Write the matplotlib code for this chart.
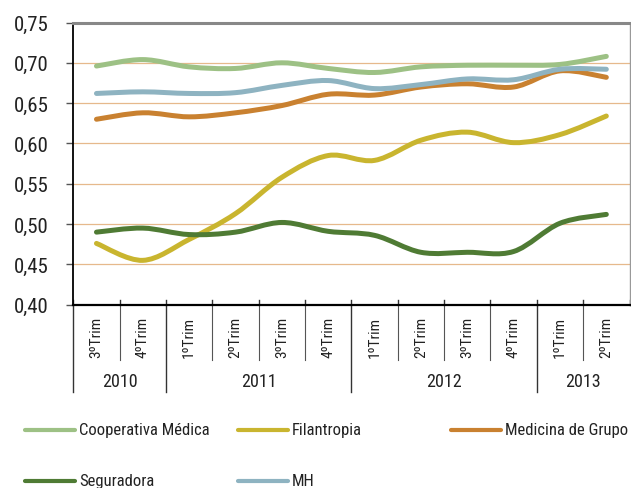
import numpy as np
import matplotlib
matplotlib.use('Agg')
import matplotlib.pyplot as plt
from matplotlib.path import Path
from matplotlib.patches import PathPatch
from matplotlib.lines import Line2D
import matplotlib.transforms as mtransforms

# data
quarters = ['3ºTrim', '4ºTrim', '1ºTrim', '2ºTrim', '3ºTrim', '4ºTrim',
            '1ºTrim', '2ºTrim', '3ºTrim', '4ºTrim', '1ºTrim', '2ºTrim']
years = ['2010', '2011', '2012', '2013']
year_sizes = [2, 4, 4, 2]  # quarters per year

coop_medica = [0.696, 0.704, 0.695, 0.693, 0.700, 0.693, 0.688, 0.695, 0.697, 0.697, 0.698, 0.708]
filantropia = [0.476, 0.455, 0.481, 0.513, 0.558, 0.585, 0.579, 0.604, 0.614, 0.601, 0.611, 0.634]
medicina_grupo = [0.630, 0.638, 0.633, 0.638, 0.647, 0.661, 0.660, 0.670, 0.674, 0.670, 0.690, 0.682]
seguradora = [0.490, 0.495, 0.487, 0.490, 0.502, 0.491, 0.486, 0.465, 0.465, 0.466, 0.501, 0.512]
mh = [0.662, 0.664, 0.662, 0.663, 0.672, 0.678, 0.668, 0.673, 0.680, 0.679, 0.692, 0.692]

series_names = ['Cooperativa Médica', 'Filantropia', 'Medicina de Grupo', 'Seguradora', 'MH']
series_vals = [coop_medica, filantropia, medicina_grupo, seguradora, mh]
colors = ['#9DC185', '#C9B52F', '#C98130', '#4F7B34', '#8EB3C1']

yticks = [0.40, 0.45, 0.50, 0.55, 0.60, 0.65, 0.70, 0.75]

plt.rcParams['font.family'] = ['Roboto Condensed', 'DejaVu Sans']


def smooth_path(x, y):
    # excel-like smoothed line as cubic bezier segments
    x = np.asarray(x, float)
    y = np.asarray(y, float)
    px = np.concatenate([[x[0]], x, [x[-1]]])
    py = np.concatenate([[y[0]], y, [y[-1]]])
    verts = [(x[0], y[0])]
    codes = [Path.MOVETO]
    for i in range(1, len(px) - 2):
        c1 = (px[i] + (px[i + 1] - px[i - 1]) / 6, py[i] + (py[i + 1] - py[i - 1]) / 6)
        c2 = (px[i + 1] - (px[i + 2] - px[i]) / 6, py[i + 1] - (py[i + 2] - py[i]) / 6)
        verts += [c1, c2, (px[i + 1], py[i + 1])]
        codes += [Path.CURVE4] * 3
    return Path(verts, codes)


fig = plt.figure(figsize=(6.31, 4.89), dpi=100)
ax = fig.add_axes([73.3 / 631, 1 - 305.7 / 489, 556.2 / 631, 282.2 / 489])

x = np.arange(len(quarters))
for vals, col in zip(series_vals, colors):
    patch = PathPatch(smooth_path(x, vals), fill=False, edgecolor=col,
                      lw=3.6, capstyle='round', joinstyle='round', zorder=3)
    ax.add_patch(patch)

ax.set_xlim(-0.5, len(quarters) - 0.5)
ax.set_ylim(0.40, 0.75)
ax.set_yticks(yticks)
ax.set_yticklabels(['{:.2f}'.format(v).replace('.', ',') for v in yticks])
for v in yticks[1:-1]:
    ax.axhline(v, color='#E6B98C', lw=0.9, zorder=1)

ax.tick_params(axis='y', length=5, width=1, color='#555555', pad=13,
               labelsize=15, labelcolor='#222222')
ax.tick_params(axis='x', length=0, labelbottom=False)

ax.spines['left'].set_color('black')
ax.spines['left'].set_linewidth(1.3)
ax.spines['bottom'].set_color('black')
ax.spines['bottom'].set_linewidth(1.6)
ax.spines['top'].set_color('#888888')
ax.spines['top'].set_linewidth(2.2)
ax.spines['right'].set_color('#999999')
ax.spines['right'].set_linewidth(1.0)

# category axis with two levels
trans = mtransforms.blended_transform_factory(ax.transData, ax.transAxes)
year_edges = np.cumsum([0] + year_sizes) - 0.5
for b in np.arange(-0.5, len(quarters), 1.0):
    ax.plot([b, b], [0, 0.018], color='#333333', lw=1, transform=trans, clip_on=False)
    if b in year_edges[:-1]:
        ax.plot([b, b], [0, -0.308], color='#333333', lw=1, transform=trans, clip_on=False)
    elif b < len(quarters) - 0.5:
        ax.plot([b, b], [0, -0.195], color='#555555', lw=0.8, transform=trans, clip_on=False)

for i, q in enumerate(quarters):
    ax.text(i, -0.113, q, rotation=90, ha='center', va='center', fontsize=11,
            color='#222222', transform=trans)

for k, yr in enumerate(years):
    center = (year_edges[k] + year_edges[k + 1]) / 2
    ax.text(center, -0.27, yr, ha='center', va='center', fontsize=13,
            color='#222222', transform=trans)

# legend drawn in figure coordinates
leg_x = [25, 238, 451, 25, 238]
leg_y = [431, 431, 431, 481.5, 481.5]
for name, col, lx, ly in zip(series_names, colors, leg_x, leg_y):
    yf = 1 - ly / 489
    fig.add_artist(Line2D([lx / 631, (lx + 50) / 631], [yf, yf], color=col, lw=3,
                          solid_capstyle='round'))
    fig.text((lx + 54) / 631, yf, name, ha='left', va='center', fontsize=12,
             color='#222222')

fig.savefig('out.png', dpi=100)
